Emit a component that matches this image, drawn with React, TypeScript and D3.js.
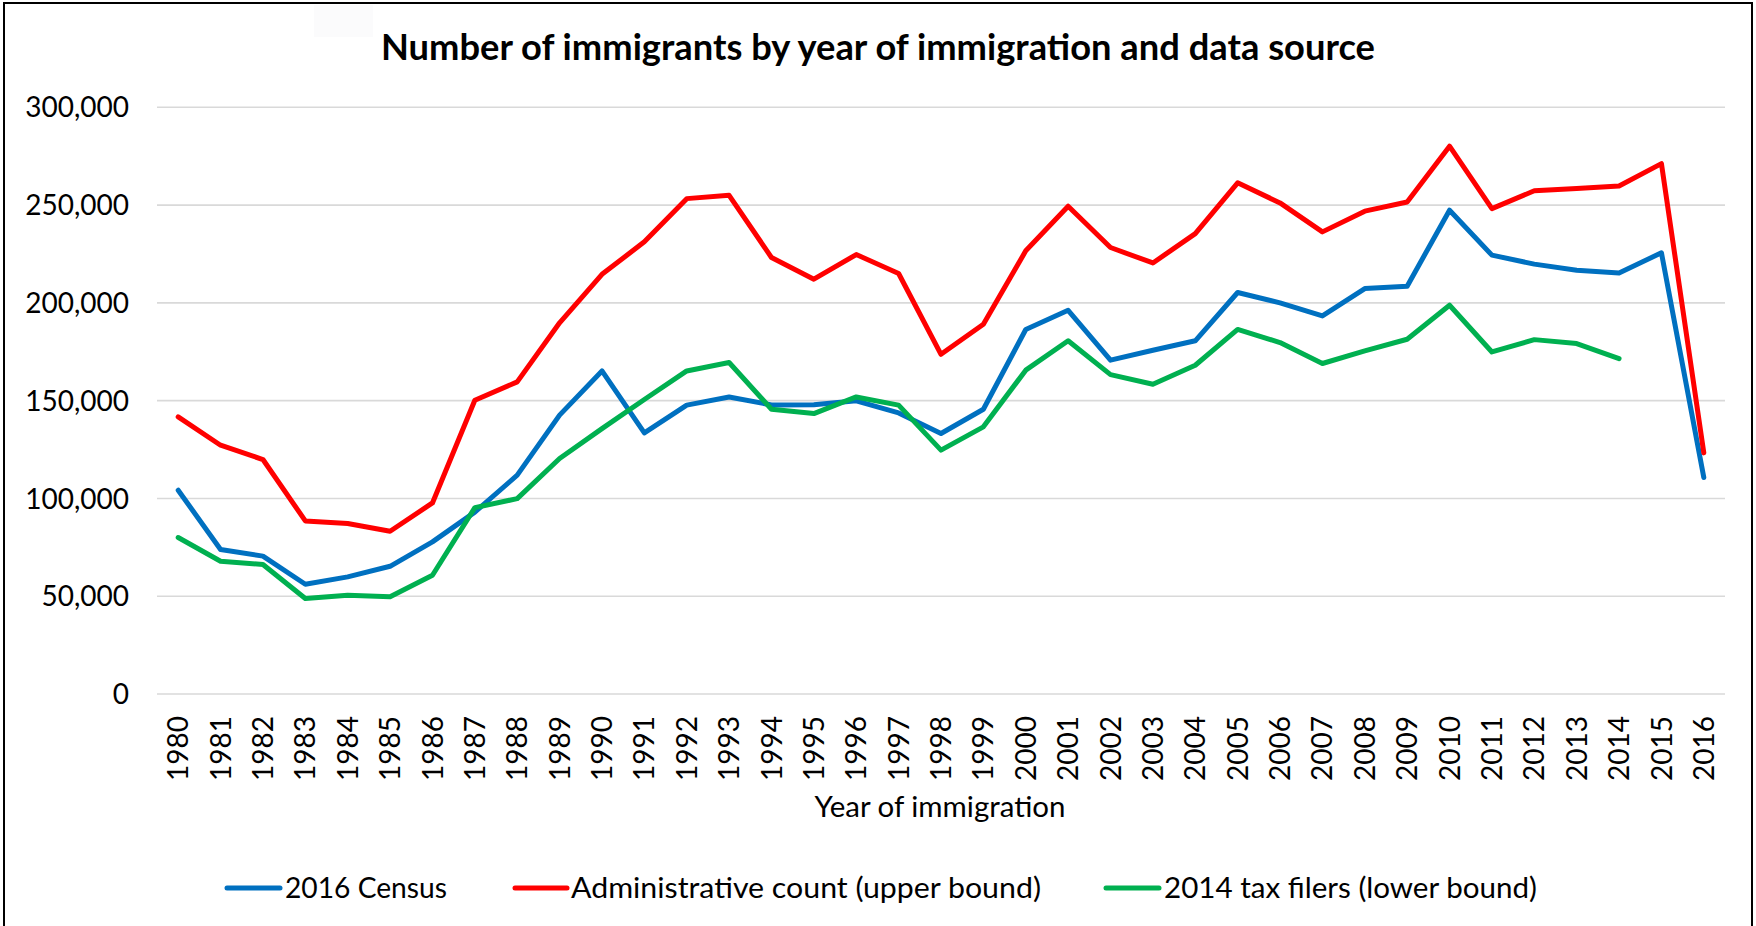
import React from "react";
import * as d3 from "d3";

const years: string[] = [
  "1980","1981","1982","1983","1984","1985","1986","1987","1988","1989",
  "1990","1991","1992","1993","1994","1995","1996","1997","1998","1999",
  "2000","2001","2002","2003","2004","2005","2006","2007","2008","2009",
  "2010","2011","2012","2013","2014","2015","2016",
];

const census2016: (number | null)[] = [
  104200, 73900, 70500, 56100, 59900, 65300, 77800, 93000, 111900, 142600,
  165200, 133500, 147700, 151900, 147800, 147900, 149900, 143700, 133200, 145600,
  186400, 196200, 170700, 175800, 180600, 205300, 200000, 193300, 207300, 208500,
  247400, 224400, 219800, 216700, 215300, 225600, 110700,
];

const adminCount: (number | null)[] = [
  141700, 127200, 119900, 88500, 87200, 83200, 97700, 150200, 159600, 189800,
  214600, 231200, 253300, 255000, 223200, 212100, 224700, 215000, 173700, 189100,
  226600, 249400, 228300, 220400, 235400, 261400, 251100, 236300, 246900, 251600,
  280100, 248200, 257300, 258500, 259800, 271200, 123300,
];

const taxFilers2014: (number | null)[] = [
  80000, 67900, 66200, 48800, 50500, 49700, 60700, 95300, 99900, 120400,
  135700, 150600, 165200, 169500, 145600, 143400, 151900, 147700, 124700, 136600,
  165600, 180600, 163300, 158400, 168100, 186400, 179700, 169000, 175400, 181400,
  198800, 174900, 181200, 179200, 171500, null, null,
];

const yTicks: number[] = [0, 50000, 100000, 150000, 200000, 250000, 300000];

const seriesNames: string[] = [
  "2016 Census",
  "Administrative count (upper bound)",
  "2014 tax filers (lower bound)",
];
const seriesColors: string[] = ["#0070C0", "#FF0000", "#00B050"];

const titleText = "Number of immigrants by year of immigration and data source";
const xAxisTitle = "Year of immigration";

const W = 1756;
const H = 926;
const FONT = "Lato, Carlito, Calibri, sans-serif";

export default function App() {
  const plotLeft = 157;
  const plotRight = 1725;
  const plotTop = 107.3;
  const plotBottom = 694;

  const x = d3.scalePoint<string>().domain(years).range([plotLeft, plotRight]).padding(0.5);
  const y = d3.scaleLinear().domain([0, 300000]).range([plotBottom, plotTop]);
  const fmt = d3.format(",");

  const allSeries = [census2016, adminCount, taxFilers2014];
  const line = d3
    .line<number | null>()
    .defined((d) => d !== null)
    .x((_, i) => x(years[i]) as number)
    .y((d) => y(d as number));

  const legendItems = [
    { lx1: 227, lx2: 280, tx: 285, tl: 162 },
    { lx1: 515, lx2: 567, tx: 571, tl: 470 },
    { lx1: 1106, lx2: 1159, tx: 1164, tl: 373 },
  ];
  const legendY = 888;

  return (
    <svg
      width={W}
      height={H}
      style={{ position: "absolute", left: 0, top: 0, background: "#fff" }}
      fontFamily={FONT}
    >
      <rect x={0} y={0} width={W} height={H} fill="#fff" />
      <rect x={314} y={5} width={59} height={32} fill="#fbfbfc" />
      <rect x={4} y={3} width={1748} height={H + 20} fill="none" stroke="#000" strokeWidth={2} />

      <text
        x={878}
        y={60}
        textAnchor="middle"
        fontSize={36}
        fontWeight="bold"
        fill="#000"
        textLength={994}
        lengthAdjust="spacingAndGlyphs"
      >
        {titleText}
      </text>

      {yTicks.map((t) => (
        <g key={t}>
          <line x1={plotLeft} x2={plotRight} y1={y(t)} y2={y(t)} stroke="#d9d9d9" strokeWidth={1.6} />
          <text x={129} y={y(t)} dy="0.36em" textAnchor="end" fontSize={28} fill="#000">
            {fmt(t)}
          </text>
        </g>
      ))}

      {years.map((yr) => (
        <text
          key={yr}
          transform={`translate(${x(yr)},${plotBottom + 22}) rotate(-90)`}
          textAnchor="end"
          dy="0.36em"
          fontSize={28}
          fill="#000"
        >
          {yr}
        </text>
      ))}

      <text
        x={940}
        y={817}
        textAnchor="middle"
        fontSize={28.5}
        fill="#000"
        textLength={251}
        lengthAdjust="spacingAndGlyphs"
      >
        {xAxisTitle}
      </text>

      {allSeries.map((s, i) => (
        <path
          key={i}
          d={line(s) || ""}
          fill="none"
          stroke={seriesColors[i]}
          strokeWidth={5}
          strokeLinejoin="round"
          strokeLinecap="round"
        />
      ))}

      {seriesNames.map((name, i) => (
        <g key={name}>
          <line
            x1={legendItems[i].lx1}
            x2={legendItems[i].lx2}
            y1={legendY}
            y2={legendY}
            stroke={seriesColors[i]}
            strokeWidth={5}
            strokeLinecap="round"
          />
          <text
            x={legendItems[i].tx}
            y={legendY}
            dy="0.36em"
            fontSize={29}
            fill="#000"
            textLength={legendItems[i].tl}
            lengthAdjust="spacingAndGlyphs"
          >
            {name}
          </text>
        </g>
      ))}
    </svg>
  );
}
